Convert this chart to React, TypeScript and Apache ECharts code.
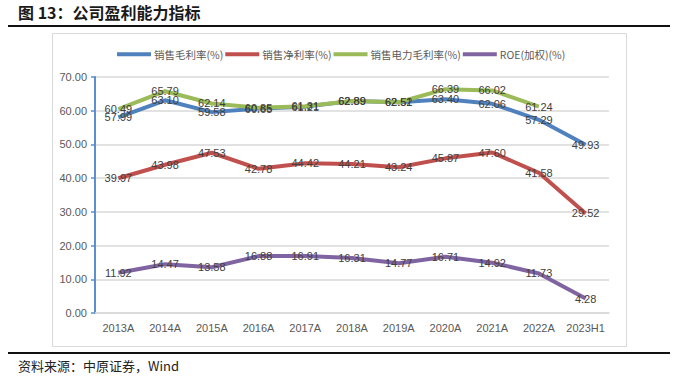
import React, { useEffect, useRef } from "react";
import * as echarts from "echarts";

const categories = ["2013A", "2014A", "2015A", "2016A", "2017A", "2018A", "2019A", "2020A", "2021A", "2022A", "2023H1"];
const grossMargin = [57.99, 63.1, 59.58, 60.65, 61.21, 62.89, 62.51, 63.4, 62.06, 57.29, 49.93];
const netMargin = [39.97, 43.98, 47.53, 42.78, 44.42, 44.21, 43.24, 45.87, 47.6, 41.58, 29.52];
const powerGrossMargin: (number | string)[] = [60.49, 65.79, 62.14, 60.85, 61.31, 62.89, 62.52, 66.39, 66.02, 61.24, "-"];
const roe = [11.92, 14.47, 13.58, 16.88, 16.91, 16.31, 14.77, 16.71, 14.92, 11.73, 4.28];
const seriesNames = ["销售毛利率(%)", "销售净利率(%)", "销售电力毛利率(%)", "ROE(加权)(%)"];
const colors = ["#4F81BD", "#C0504D", "#9BBB59", "#8064A2"];

export default function App() {
  const ref = useRef<HTMLDivElement>(null);
  useEffect(() => {
    const chart = echarts.init(ref.current!, null, { renderer: "svg" });
    const dataSets = [grossMargin, netMargin, powerGrossMargin, roe];
    const series = dataSets.map((d, i) => ({
      name: seriesNames[i],
      type: "line",
      data: d,
      symbol: "circle",
      symbolSize: 0.01,
      showSymbol: true,
      itemStyle: { color: colors[i] },
      lineStyle: { color: colors[i], width: 4 },
      label: {
        show: true,
        position: "inside",
        color: "#404040",
        fontSize: 11,
        fontFamily: "Liberation Sans",
        formatter: (p: any) => Number(p.value).toFixed(2),
      },
      z: 2,
    }));
    chart.setOption({
      animation: false,
      backgroundColor: "#ffffff",
      color: colors,
      graphic: [
        {
          type: "text",
          left: 18,
          top: 4,
          style: {
            text: "图 13：公司盈利能力指标",
            fontSize: 16,
            fontWeight: "bold",
            fontFamily: "Noto Sans CJK SC",
            fill: "#1a1a1a",
          },
        },
        { type: "line", shape: { x1: 8, y1: 26, x2: 670, y2: 26 }, style: { stroke: "#111", lineWidth: 2 } },
        { type: "rect", shape: { x: 52.5, y: 33.5, width: 574, height: 313 }, style: { fill: "none", stroke: "#d9d9d9", lineWidth: 1 } },
        { type: "line", shape: { x1: 8, y1: 353, x2: 670, y2: 353 }, style: { stroke: "#111", lineWidth: 2 } },
        {
          type: "text",
          left: 18,
          top: 359,
          style: {
            text: "资料来源：中原证券，Wind",
            fontSize: 13,
            fontFamily: "Noto Sans CJK SC",
            fill: "#222",
          },
        },
      ],
      legend: {
        top: 44,
        left: 112,
        itemWidth: 34,
        itemHeight: 4,
        itemGap: 2,
        icon: "rect",
        textStyle: { color: "#595959", fontSize: 10.5, fontFamily: "Noto Sans CJK SC", padding: [0, 0, 0, -2] },
        data: seriesNames,
      },
      grid: { left: 95, right: 69, top: 77, bottom: 64 },
      xAxis: {
        type: "category",
        data: categories,
        boundaryGap: true,
        axisLine: { lineStyle: { color: "#d9d9d9", width: 1.5 } },
        axisTick: { show: false },
        axisLabel: { color: "#595959", fontSize: 11, fontFamily: "Liberation Sans", margin: 9, interval: 0 },
      },
      yAxis: {
        type: "value",
        min: 0,
        max: 70,
        interval: 10,
        axisLine: { show: true, lineStyle: { color: "#5B8FD0", width: 2 } },
        axisTick: { show: true, length: 4, lineStyle: { color: "#5B8FD0", width: 1.5 } },
        splitLine: { lineStyle: { color: "#d9d9d9", width: 1.5 } },
        axisLabel: {
          color: "#595959",
          fontSize: 11,
          fontFamily: "Liberation Sans",
          margin: 8,
          formatter: (v: number) => v.toFixed(2),
        },
      },
      series,
    });
    return () => chart.dispose();
  }, []);
  return <div ref={ref} style={{ position: "fixed", left: 0, top: 0, width: 678, height: 377 }} />;
}
